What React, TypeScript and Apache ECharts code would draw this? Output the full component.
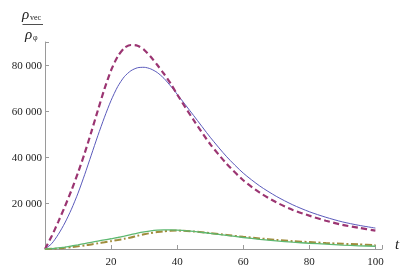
import React, { useEffect, useRef } from "react";
import * as echarts from "echarts";

const tValues = [0, 2, 4, 6, 8, 10, 12, 14, 16, 18, 20, 22, 24, 26, 28, 30, 32, 34, 36, 38, 40, 45, 50, 55, 60, 65, 70, 75, 80, 85, 90, 95, 100];

const blueSolid = [0, 2300, 6300, 11300, 17300, 24300, 32300, 40800, 49300, 57300, 64600, 70600, 74900, 77500, 78800, 79000, 78300, 76700, 74200, 70900, 67300, 58000, 48600, 40100, 33000, 27400, 22900, 19200, 16200, 13800, 11800, 10300, 9100];

const purpleDashed = [0, 5500, 11800, 18400, 25500, 33200, 41600, 50800, 60300, 69600, 77700, 83700, 87400, 88700, 88400, 86600, 83600, 80000, 76200, 72000, 67200, 56000, 45600, 37000, 29900, 24500, 20300, 17000, 14500, 12300, 10500, 9200, 8000];

const oliveDashDot = [0, 80, 250, 500, 800, 1150, 1550, 2000, 2450, 2900, 3400, 3900, 4450, 5000, 5750, 6400, 6950, 7350, 7700, 7900, 8000, 7600, 6900, 6100, 5300, 4600, 3950, 3400, 3000, 2600, 2300, 2000, 1700];

const greenSolid = [0, 150, 450, 850, 1300, 1800, 2350, 2900, 3450, 3950, 4450, 5000, 5600, 6250, 6900, 7450, 7900, 8200, 8350, 8350, 8250, 7700, 6800, 5900, 5000, 4200, 3500, 2950, 2500, 2100, 1700, 1400, 1200];

const xTicks = [20, 40, 60, 80, 100];
const yTicks = [20000, 40000, 60000, 80000];

const serif = "Liberation Serif";

export default function App() {
  const ref = useRef<HTMLDivElement>(null);
  useEffect(() => {
    const chart = echarts.init(ref.current!, null, { renderer: "svg" });
    const pair = (arr: number[]) => tValues.map((t, i) => [t, arr[i]]);
    const fmtY = (v: number) => {
      if (!yTicks.includes(v)) return "";
      const s = String(v);
      return s.slice(0, s.length - 3) + " " + s.slice(-3);
    };
    chart.setOption({
      animation: false,
      grid: { left: 45, right: 27, top: 42, bottom: 24 },
      xAxis: {
        type: "value",
        min: 0,
        max: 102,
        interval: 20,
        splitLine: { show: false },
        axisLine: { lineStyle: { color: "#9a9a9a", width: 1 } },
        axisTick: { inside: true, length: 4, lineStyle: { color: "#9a9a9a" } },
        axisLabel: {
          margin: 6,
          color: "#222",
          fontFamily: serif,
          fontSize: 11,
          formatter: (v: number) => (xTicks.includes(v) ? String(v) : ""),
        },
      },
      yAxis: {
        type: "value",
        min: 0,
        max: 90000,
        interval: 20000,
        splitLine: { show: false },
        axisLine: { show: true, lineStyle: { color: "#9a9a9a", width: 1 } },
        axisTick: { show: true, inside: true, length: 4, lineStyle: { color: "#9a9a9a" } },
        axisLabel: {
          margin: 3,
          color: "#222",
          fontFamily: serif,
          fontSize: 11,
          formatter: fmtY,
        },
      },
      graphic: [
        { type: "text", left: 22, top: 6, style: { text: "ρ", fontFamily: serif, fontStyle: "italic", fontSize: 15, fill: "#222" } },
        { type: "text", left: 30, top: 13, style: { text: "vec", fontFamily: serif, fontSize: 8, fill: "#222" } },
        { type: "line", shape: { x1: 22.5, y1: 24.5, x2: 43, y2: 24.5 }, style: { stroke: "#222", lineWidth: 0.8 } },
        { type: "text", left: 25, top: 26, style: { text: "ρ", fontFamily: serif, fontStyle: "italic", fontSize: 15, fill: "#222" } },
        { type: "text", left: 33, top: 33, style: { text: "φ", fontFamily: serif, fontSize: 8, fill: "#222" } },
        { type: "text", left: 395, top: 236, style: { text: "t", fontFamily: serif, fontStyle: "italic", fontSize: 15, fill: "#222" } },
      ],
      series: [
        {
          type: "line",
          data: pair(blueSolid),
          smooth: 0.25,
          showSymbol: false,
          lineStyle: { color: "#5a5abb", width: 1 },
        },
        {
          type: "line",
          data: pair(purpleDashed),
          smooth: 0.25,
          showSymbol: false,
          lineStyle: { color: "#9b3572", width: 2.2, type: [6, 3.5] },
        },
        {
          type: "line",
          data: pair(oliveDashDot),
          smooth: 0.25,
          showSymbol: false,
          lineStyle: { color: "#a08c3c", width: 2, type: [7, 2.5, 2, 2.5] },
        },
        {
          type: "line",
          data: pair(greenSolid),
          smooth: 0.25,
          showSymbol: false,
          lineStyle: { color: "#5db870", width: 1.3 },
        },
      ],
    });
    return () => chart.dispose();
  }, []);
  return <div ref={ref} style={{ position: "fixed", left: 0, top: 0, width: 409, height: 273 }} />;
}
